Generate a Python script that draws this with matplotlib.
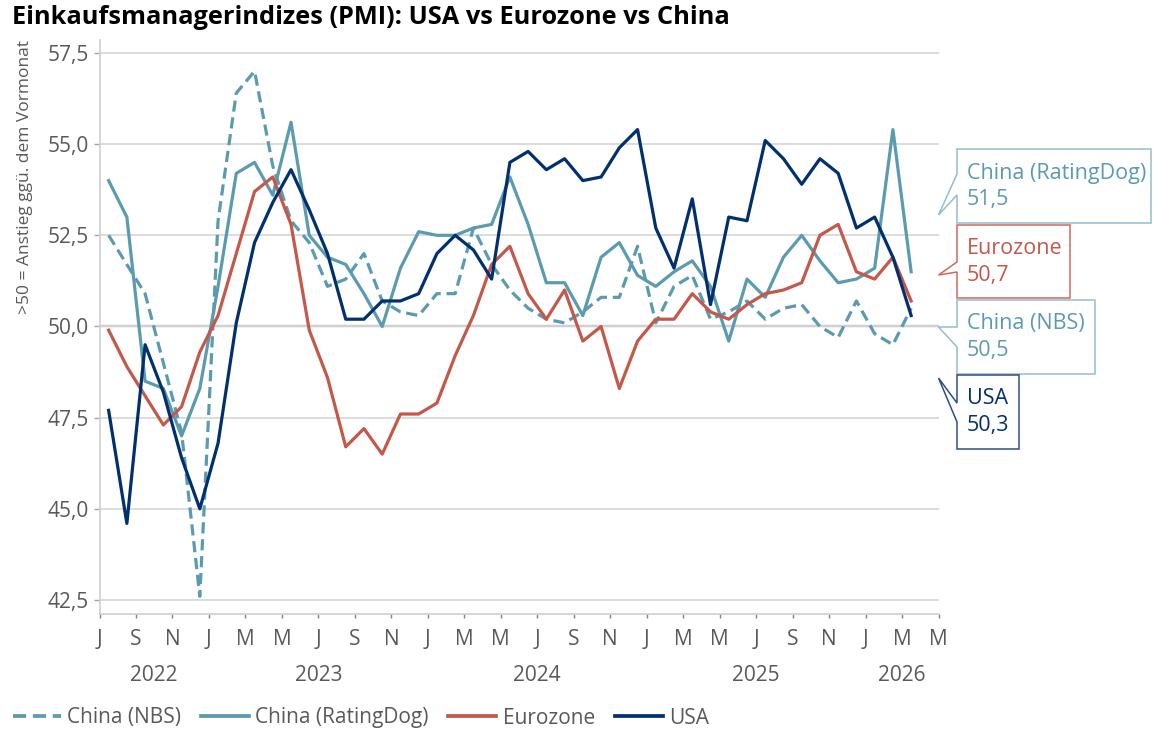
import matplotlib.pyplot as plt
from matplotlib.patches import Polygon
from matplotlib.lines import Line2D
from matplotlib.ticker import FuncFormatter
import pandas as pd

plt.rcParams['font.family'] = ['Open Sans', 'DejaVu Sans']

# Composite PMI, monthly Jul 2022 - Mar 2026
months = pd.period_range('2022-07', '2026-03', freq='M')

china_nbs = [52.5, 51.7, 50.9, 49.0, 47.1, 42.6,
             52.9, 56.4, 57.0, 54.4, 52.9, 52.3, 51.1, 51.3, 52.0, 50.7, 50.4, 50.3,
             50.9, 50.9, 52.7, 51.7, 51.0, 50.5, 50.2, 50.1, 50.4, 50.8, 50.8, 52.2,
             50.1, 51.1, 51.4, 50.2, 50.4, 50.7, 50.2, 50.5, 50.6, 50.0, 49.7, 50.7,
             49.8, 49.5, 50.5]
china_ratingdog = [54.0, 53.0, 48.5, 48.3, 47.0, 48.3,
                   51.1, 54.2, 54.5, 53.6, 55.6, 52.5, 51.9, 51.7, 50.9, 50.0, 51.6, 52.6,
                   52.5, 52.5, 52.7, 52.8, 54.1, 52.8, 51.2, 51.2, 50.3, 51.9, 52.3, 51.4,
                   51.1, 51.5, 51.8, 51.1, 49.6, 51.3, 50.8, 51.9, 52.5, 51.8, 51.2, 51.3,
                   51.6, 55.4, 51.5]
eurozone = [49.9, 48.9, 48.1, 47.3, 47.8, 49.3,
            50.3, 52.0, 53.7, 54.1, 52.8, 49.9, 48.6, 46.7, 47.2, 46.5, 47.6, 47.6,
            47.9, 49.2, 50.3, 51.7, 52.2, 50.9, 50.2, 51.0, 49.6, 50.0, 48.3, 49.6,
            50.2, 50.2, 50.9, 50.4, 50.2, 50.6, 50.9, 51.0, 51.2, 52.5, 52.8, 51.5,
            51.3, 51.9, 50.7]
usa = [47.7, 44.6, 49.5, 48.2, 46.4, 45.0,
       46.8, 50.1, 52.3, 53.4, 54.3, 53.2, 52.0, 50.2, 50.2, 50.7, 50.7, 50.9,
       52.0, 52.5, 52.1, 51.3, 54.5, 54.8, 54.3, 54.6, 54.0, 54.1, 54.9, 55.4,
       52.7, 51.6, 53.5, 50.6, 53.0, 52.9, 55.1, 54.6, 53.9, 54.6, 54.2, 52.7,
       53.0, 51.9, 50.3]

month_labels = ['J', 'S', 'N', 'J', 'M', 'M', 'J', 'S', 'N', 'J', 'M', 'M',
                'J', 'S', 'N', 'J', 'M', 'M', 'J', 'S', 'N', 'J', 'M', 'M']
years = ['2022', '2023', '2024', '2025', '2026']
y_ticks = [42.5, 45.0, 47.5, 50.0, 52.5, 55.0, 57.5]

TEAL = '#5b9bb0'
RED = '#c4584a'
NAVY = '#00306e'
GREY = '#595959'

W, H = 1155, 731


def fx(px):
    return px / W


def fy(py):
    return 1 - py / H


fig = plt.figure(figsize=(W / 100, H / 100), dpi=100)
ax = fig.add_axes([fx(99.5), fy(614), (938.5 - 99.5) / W, (614 - 40) / H])

# month index from Jul 2022, points in the middle of the month
x = [(p.year - 2022) * 12 + p.month - 7 + 0.5 for p in months]

ax.plot(x, china_nbs, color=TEAL, lw=2.3, dashes=(3.5, 1.8), label='China (NBS)', zorder=3)
ax.plot(x, china_ratingdog, color=TEAL, lw=2.3, label='China (RatingDog)', zorder=3)
ax.plot(x, eurozone, color=RED, lw=2.3, label='Eurozone', zorder=3)
ax.plot(x, usa, color=NAVY, lw=2.3, label='USA', zorder=4)

ax.set_xlim(0, 46)
ax.set_ylim(42.116, 57.856)
ax.set_yticks(y_ticks)
ax.yaxis.set_major_formatter(FuncFormatter(lambda v, p: f'{v:.1f}'.replace('.', ',')))
ax.yaxis.grid(True, color='#d9d9d9', lw=1.3, zorder=0)
ax.axhline(50, color='#808080', lw=1.6, zorder=1)

ax.set_xticks(range(0, 47, 2))
ax.set_xticklabels(month_labels)
ax.set_xticks([6, 18, 30, 42], minor=True)

for s in ['top', 'right']:
    ax.spines[s].set_visible(False)
for s in ['left', 'bottom']:
    ax.spines[s].set_color('#d0d0d0')
    ax.spines[s].set_linewidth(1.2)

ax.tick_params(axis='y', length=4.5, width=1, color='#a6a6a6', pad=3,
               labelsize=15, labelcolor=GREY)
ax.tick_params(axis='x', which='major', length=3, width=1, color='#808080', pad=8,
               labelsize=15, labelcolor=GREY)
ax.tick_params(axis='x', which='minor', length=6, width=1, color='#808080')

# year labels below the month letters
year_starts = [0, 6, 18, 30, 42, 46]
for i, yr in enumerate(years):
    ax.annotate(yr, xy=((year_starts[i] + year_starts[i + 1]) / 2, 0),
                xycoords=('data', 'axes fraction'), xytext=(0, -44.5),
                textcoords='offset points', ha='center', va='center',
                fontsize=15, color=GREY)

fig.text(fx(12), fy(18), 'Einkaufsmanagerindizes (PMI): USA vs Eurozone vs China',
         fontsize=18.3, fontweight='bold', color='black', va='center', ha='left')
fig.text(fx(25), fy(40), '>50 = Anstieg ggü. dem Vormonat', rotation=90,
         fontsize=12.5, color=GREY, va='top', ha='center')

# legend
handles = [Line2D([], [], color=TEAL, lw=2.7, dashes=(3.5, 1.8)),
           Line2D([], [], color=TEAL, lw=2.7),
           Line2D([], [], color=RED, lw=2.7),
           Line2D([], [], color=NAVY, lw=2.7)]
fig.legend(handles, ['China (NBS)', 'China (RatingDog)', 'Eurozone', 'USA'],
           loc='center left', bbox_to_anchor=(fx(13), fy(718)), ncol=4,
           frameon=False, fontsize=15, handlelength=2.3, handletextpad=0.3,
           columnspacing=0.95, borderpad=0, borderaxespad=0, labelcolor=GREY)

# callout boxes on the right
callouts = [
    ('China (RatingDog)', china_ratingdog, TEAL, '#93bfcd', (957, 149, 1151, 223), (174, 195), 215),
    ('Eurozone', eurozone, RED, '#cf6a5b', (957, 225, 1070, 298), (262, 272), 275),
    ('China (NBS)', china_nbs, TEAL, '#93bfcd', (957, 300, 1095, 374), (327, 347), 327),
    ('USA', usa, NAVY, '#2c4f85', (957, 375, 1019, 449), (403, 422), 378),
]
for name, vals, tcol, bcol, (L, T, R, B), (ta, tb), tip in callouts:
    pts = [(L, T), (R, T), (R, B), (L, B), (L, tb), (938.5, tip), (L, ta)]
    fig.add_artist(Polygon([(fx(a), fy(b)) for a, b in pts], closed=True,
                           transform=fig.transFigure, facecolor='white',
                           edgecolor=bcol, lw=1.1))
    fig.text(fx(967), fy(T + 24), name, fontsize=15.5, color=tcol, va='center', ha='left')
    fig.text(fx(967), fy(T + 51), f'{vals[-1]:.1f}'.replace('.', ','),
             fontsize=15.5, color=tcol, va='center', ha='left')

fig.savefig('out.png', dpi=100)
